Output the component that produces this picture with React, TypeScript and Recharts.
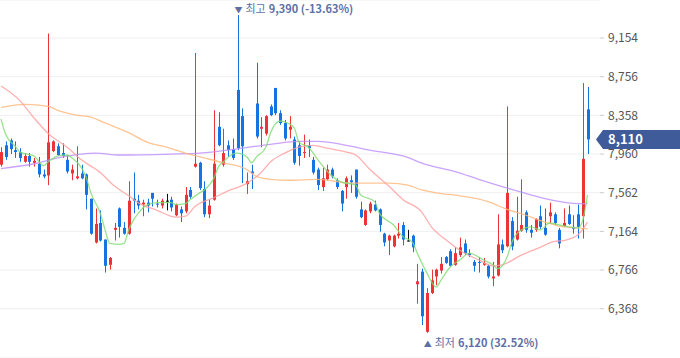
import React from "react";
import {
  ComposedChart,
  Bar,
  Line,
  XAxis,
  YAxis,
  CartesianGrid,
  ReferenceLine,
  ReferenceDot,
} from "recharts";

// 일봉 시세 (왼쪽 → 오른쪽)
const opens = [
  7850, 8050, 8100, 8000, 7980, 7880, 7940, 7870, 7860, 7750,
  7740, 7990, 8040, 7970, 7900, 7760, 7710, 7760, 7750, 7500,
  7050, 7250, 7080, 6820, 7180, 7400, 7200, 7140, 7500, 7480,
  7440, 7460, 7560, 7450, 7430, 7480, 7490, 7330, 7390, 7370,
  7590, 7830, 7870, 7600, 7340, 7490, 8240, 7850, 8050, 8010,
  8620, 8350, 7650, 7780, 8480, 8220, 8170, 8450, 8640, 8380,
  8280, 8210, 8110, 8050, 7970, 8050, 7900, 7800, 7620, 7700,
  7800, 7690, 7580, 7620, 7690, 7800, 7390, 7230, 7370, 7440,
  7390, 7140, 7070, 7010, 7120, 7230, 7070, 7120, 6620, 6750,
  6130, 6530, 6700, 6760, 6900, 6960, 6820, 6920, 7040, 6940,
  6850, 6850, 6820, 6810, 6680, 6710, 7030, 7010, 7270, 7080,
  7170, 7360, 7180, 7180, 7320, 7200, 7320, 7340, 7180, 7220,
  7340, 7210, 7340, 7320, 8420,
];
const highs = [
  8030, 8090, 8120, 8090, 8020, 7970, 7970, 7920, 7930, 7800,
  9200, 8100, 8070, 8070, 7950, 7850, 8040, 7850, 7760, 7500,
  7400, 7380, 7080, 6900, 7250, 7410, 7260, 7680, 7770, 7540,
  7490, 7500, 7560, 7490, 7500, 7550, 7520, 7450, 7420, 7620,
  7620, 9000, 7880, 7680, 7490, 8410, 8390, 8220, 8100, 8120,
  9390, 8430, 7770, 7850, 8900, 8340, 8360, 8470, 8640, 8410,
  8310, 8350, 8140, 8090, 8160, 8110, 7930, 7820, 7820, 7850,
  7820, 7710, 7590, 7730, 7740, 7800, 7470, 7390, 7470, 7480,
  7400, 7150, 7130, 7130, 7250, 7260, 7180, 7130, 6830, 6780,
  6580, 6770, 6780, 6900, 6910, 6980, 7000, 7100, 7080, 6980,
  6870, 6900, 6890, 6820, 6850, 7340, 7080, 8450, 7310, 7520,
  7700, 7380, 7230, 7300, 7430, 7400, 7460, 7360, 7200, 7400,
  7430, 7330, 7440, 8690, 8650,
];
const lows = [
  7830, 7900, 7960, 7920, 7880, 7870, 7830, 7830, 7720, 7710,
  7640, 7980, 7940, 7920, 7760, 7690, 7700, 7700, 7390, 7130,
  7040, 7060, 6740, 6770, 7070, 7100, 7130, 7130, 7350, 7390,
  7320, 7360, 7420, 7410, 7400, 7380, 7370, 7320, 7260, 7350,
  7500, 7820, 7590, 7310, 7300, 7480, 8040, 7830, 7930, 7900,
  8000, 7660, 7550, 7600, 8120, 8030, 8150, 8350, 8360, 8260,
  8100, 8120, 7850, 7840, 7920, 7930, 7750, 7590, 7580, 7690,
  7710, 7600, 7370, 7500, 7560, 7500, 7300, 7220, 7350, 7370,
  7160, 7010, 6920, 7000, 7090, 7020, 7060, 6950, 6420, 6200,
  6120, 6520, 6610, 6730, 6830, 6800, 6810, 6900, 6920, 6900,
  6750, 6740, 6810, 6680, 6600, 6700, 6940, 7000, 6970, 7070,
  7160, 7150, 7100, 7160, 7190, 7120, 7240, 7230, 6990, 7210,
  7230, 7140, 7090, 7090, 7960,
];
const closes = [
  7980, 7930, 8010, 7980, 7920, 7940, 7880, 7890, 7750, 7730,
  8080, 8090, 7950, 7940, 7780, 7800, 7730, 7710, 7540, 7140,
  7240, 7070, 6810, 6890, 7200, 7210, 7140, 7480, 7480, 7430,
  7460, 7430, 7500, 7440, 7480, 7480, 7410, 7440, 7350, 7540,
  7520, 7860, 7610, 7340, 7430, 7860, 8050, 7970, 8000, 7920,
  8020, 8040, 7680, 7760, 8140, 8240, 8350, 8360, 8380, 8280,
  8120, 8240, 7870, 7940, 7980, 8020, 7770, 7640, 7710, 7800,
  7730, 7620, 7450, 7710, 7670, 7520, 7310, 7380, 7450, 7380,
  7230, 7050, 7120, 7120, 7140, 7080, 7070, 7000, 6650, 6290,
  6530, 6660, 6770, 6830, 6840, 6810, 6940, 7000, 6940, 6920,
  6810, 6840, 6840, 6700, 6700, 7030, 6970, 7560, 7010, 7170,
  7230, 7180, 7150, 7290, 7210, 7130, 7360, 7250, 7040, 7250,
  7240, 7190, 7210, 7910, 8110,
];

// 이동평균선: 그림에서 읽은 지점만 [봉 번호, 값]
const ma5Points = [
  [0, 8320], [1, 8160], [3, 8040], [4, 7980], [7, 7940], [9, 7840], [10, 7880],
  [12, 7940], [14, 7950], [15, 7920], [17, 7820], [18, 7720], [19, 7560],
  [21, 7350], [22, 7180], [23, 7040], [25, 7030], [26, 7040], [27, 7180],
  [28, 7280], [29, 7350], [31, 7440], [33, 7460], [36, 7460], [37, 7440],
  [39, 7450], [40, 7490], [42, 7560], [43, 7590], [45, 7710], [46, 7830],
  [47, 7880], [49, 7960], [50, 7970], [52, 7930], [53, 7870], [54, 7930],
  [56, 8030], [57, 8180], [59, 8300], [60, 8290], [62, 8230], [63, 8080],
  [65, 8030], [67, 7900], [69, 7780], [72, 7670], [75, 7640], [76, 7540],
  [79, 7470], [80, 7350], [83, 7230], [85, 7110], [87, 7050], [88, 6940],
  [90, 6740], [92, 6590], [93, 6660], [95, 6800], [97, 6870], [99, 6940],
  [102, 6870], [104, 6820], [105, 6780], [107, 6900], [108, 7050], [110, 7180],
  [112, 7210], [114, 7180], [116, 7250], [118, 7230], [120, 7210], [122, 7200],
  [123, 7280], [124, 7540],
];
const ma20Points = [
  [0, 8660], [4, 8510], [7, 8330], [10, 8170], [14, 8030], [17, 7900],
  [21, 7770], [24, 7630], [27, 7530], [29, 7460], [33, 7380], [37, 7310],
  [39, 7320], [41, 7420], [45, 7510], [48, 7580], [52, 7660], [55, 7770],
  [57, 7880], [60, 7970], [63, 8030], [66, 8050], [69, 8020], [73, 7980],
  [75, 7950], [78, 7800], [82, 7630], [85, 7490], [89, 7360], [91, 7210],
  [94, 7080], [97, 6970], [101, 6870], [104, 6810], [106, 6820], [110, 6920],
  [114, 7000], [117, 7060], [119, 7070], [122, 7130], [124, 7260],
];
const ma60Points = [
  [0, 8440], [5, 8470], [10, 8450], [12, 8410], [16, 8360], [19, 8340],
  [22, 8280], [27, 8180], [31, 8080], [35, 8030], [39, 7970], [43, 7920],
  [47, 7870], [52, 7800], [54, 7730], [57, 7700], [61, 7690], [67, 7700],
  [74, 7660], [82, 7660], [86, 7640], [89, 7590], [92, 7560], [97, 7530],
  [103, 7470], [107, 7390], [111, 7330], [115, 7260], [119, 7210], [122, 7200],
  [124, 7190],
];
const ma120Points = [
  [0, 7810], [7, 7860], [12, 7920], [17, 7960], [20, 7970], [25, 7950],
  [36, 7960], [42, 7970], [51, 8020], [57, 8060], [63, 8090], [67, 8090],
  [73, 8050], [78, 8000], [85, 7940], [90, 7850], [96, 7780], [101, 7700],
  [107, 7610], [112, 7540], [117, 7480], [122, 7450], [124, 7450],
];

const priceTicks = [6368, 6766, 7164, 7562, 7960, 8358, 8756, 9154];

const UP = "#ec3437";
const DOWN = "#1673e4";
const FONT = "'Noto Sans CJK KR', 'Noto Sans', sans-serif";

const lookup = (pts: number[][]) => new Map(pts.map(([i, v]) => [i, v]));
const m5 = lookup(ma5Points);
const m20 = lookup(ma20Points);
const m60 = lookup(ma60Points);
const m120 = lookup(ma120Points);

const data = opens.map((open, i) => ({
  i,
  range: [lows[i], highs[i]],
  open,
  close: closes[i],
  high: highs[i],
  low: lows[i],
  ma5: m5.get(i) ?? null,
  ma20: m20.get(i) ?? null,
  ma60: m60.get(i) ?? null,
  ma120: m120.get(i) ?? null,
}));

const lastClose = closes[closes.length - 1];
const maxHigh = Math.max(...highs);
const minLow = Math.min(...lows);
const maxIdx = highs.indexOf(maxHigh);
const minIdx = lows.indexOf(minLow);
const pct = (base: number) => ((lastClose - base) / base) * 100;
const fmt = (v: number) => v.toLocaleString("en-US");

// 캔들 하나 (범위 막대의 위치로 시가/종가 좌표 계산)
const Candle = (props: any) => {
  const { x, y, width, height, payload } = props;
  if (x == null || !payload) return null;
  const { open, close, high, low } = payload;
  const top = Math.min(y, y + height);
  const h = Math.abs(height);
  const py = (v: number) => top + ((high - v) / (high - low)) * h;
  const cx = Math.round(x + width / 2) + 0.5;
  const color = close > open ? UP : close < open ? DOWN : "#111";
  const bTop = py(Math.max(open, close));
  const bBot = py(Math.min(open, close));
  return (
    <g>
      <line x1={cx} x2={cx} y1={top} y2={top + h} stroke={color} strokeWidth={1} />
      <rect
        x={cx - 1.5}
        y={bTop}
        width={3}
        height={Math.max(bBot - bTop, 1)}
        fill={color}
      />
    </g>
  );
};

const HighMark = (props: any) => {
  const { cx, cy } = props;
  return (
    <text x={cx - 3} y={cy - 2} fontSize={11} fill="#5d70a6" fontFamily={FONT}>
      <tspan fontSize={8}>▼</tspan>
      <tspan dx={3}>최고</tspan>
      <tspan dx={3} fontWeight={600}>
        {`${fmt(maxHigh)} (${pct(maxHigh).toFixed(2)}%)`}
      </tspan>
    </text>
  );
};

const LowMark = (props: any) => {
  const { cx, cy } = props;
  return (
    <text x={cx - 3} y={cy + 14} fontSize={11} fill="#5d70a6" fontFamily={FONT}>
      <tspan fontSize={8}>▲</tspan>
      <tspan dx={3}>최저</tspan>
      <tspan dx={3} fontWeight={600}>
        {`${fmt(minLow)} (${pct(minLow).toFixed(2)}%)`}
      </tspan>
    </text>
  );
};

const PriceTag = (props: any) => {
  const { viewBox } = props;
  if (!viewBox) return null;
  const cy = viewBox.y;
  const r = viewBox.x + viewBox.width;
  const pts = `${r - 4},${cy} ${r + 3},${cy - 9.5} ${r + 80},${cy - 9.5} ${r + 80},${cy + 9.5} ${r + 3},${cy + 9.5}`;
  return (
    <g>
      <polygon points={pts} fill="#3f5b99" />
      <text
        x={r + 8}
        y={cy}
        dy="0.36em"
        fill="#fff"
        fontSize={13}
        fontWeight={600}
        fontFamily={FONT}
      >
        {fmt(lastClose)}
      </text>
    </g>
  );
};

const lineProps = {
  type: "monotone" as const,
  strokeWidth: 1.3,
  strokeOpacity: 0.8,
  dot: false,
  activeDot: false,
  connectNulls: true,
  isAnimationActive: false,
};

export default function App() {
  return (
    <div style={{ position: "absolute", left: 0, top: 0, background: "#fff" }}>
      <ComposedChart
        width={680}
        height={358}
        data={data}
        margin={{ top: 0, right: 0, bottom: 0, left: 0 }}
      >
        <CartesianGrid stroke="#efefef" vertical={false} />
        <XAxis
          dataKey="i"
          type="number"
          domain={[-0.21, 126.64]}
          allowDataOverflow
          hide
        />
        <YAxis
          orientation="right"
          width={80}
          domain={[5861, 9545]}
          allowDataOverflow
          ticks={priceTicks}
          tickFormatter={fmt}
          axisLine={false}
          tickLine={{ stroke: "#cccccc" }}
          tickSize={4}
          tickMargin={4}
          tick={{ fill: "#555", fontSize: 12, fontFamily: FONT }}
        />
        <Bar dataKey="range" shape={Candle} isAnimationActive={false} />
        <Line dataKey="ma120" stroke="#bd8cfb" {...lineProps} />
        <Line dataKey="ma60" stroke="#ffb679" {...lineProps} />
        <Line dataKey="ma20" stroke="#ff9c9c" {...lineProps} />
        <Line dataKey="ma5" stroke="#7fdb72" {...lineProps} />
        <ReferenceDot x={maxIdx} y={maxHigh} r={0} shape={HighMark} />
        <ReferenceDot x={minIdx} y={minLow} r={0} shape={LowMark} />
        <ReferenceLine y={lastClose} stroke="none" label={<PriceTag />} />
      </ComposedChart>
    </div>
  );
}
